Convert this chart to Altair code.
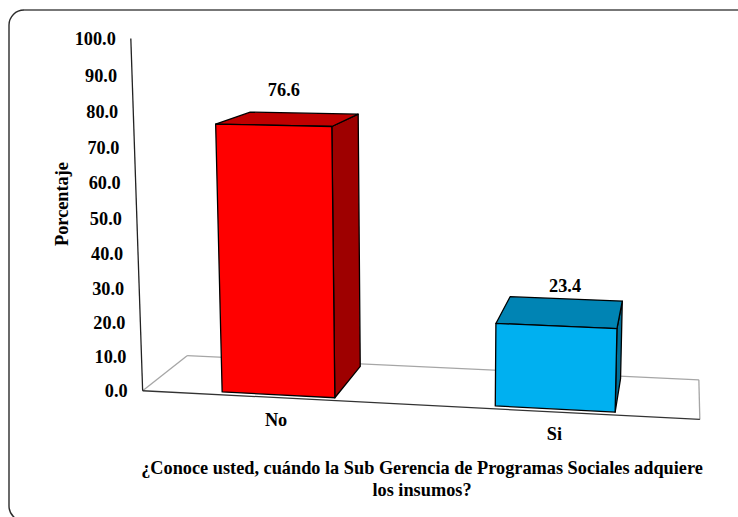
import altair as alt
import numpy as np

# Survey results
categories = ["No", "Si"]
percentages = [76.6, 23.4]
front_colors = ["#FF0000", "#00B0F0"]
top_colors = ["#C00000", "#0084B4"]
side_colors = ["#9E0000", "#006F98"]
tick_values = [0, 10, 20, 30, 40, 50, 60, 70, 80, 90, 100]

y_title = "Porcentaje"
x_title = [
    "¿Conoce usted, cuándo la Sub Gerencia de Programas Sociales adquiere",
    "los insumos?",
]

W, H = 738, 517
FONT = "Liberation Serif"

# Pinhole camera of the 3-D scene: (position across, depth, value / 100, 1) -> homogeneous canvas point
CAMERA = np.array([
    [515.00362, 61.0159, -17.00339, 142.64597],
    [3.38628, -3.53516, -353.71315, 390.73316],
    [-0.06028, 0.08863, -0.03956, 1.0],
])
BAR_HALF = 0.105
DEPTH_FRONT, DEPTH_BACK = 0.07, 0.93
LABEL_DEPTH, LABEL_LIFT = 0.365, 8.4
LABEL_SHIFT = (0.0, 0.009)


def project(across, depth, value):
    p = CAMERA @ np.array([across, depth, value / 100, 1.0])
    return [float(p[0] / p[2]), float(p[1] / p[2])]


def polygon(corners, fill):
    ring = [project(*c) for c in corners]
    return {
        "type": "Feature",
        "properties": {"fill": fill},
        "geometry": {"type": "Polygon", "coordinates": [ring + [ring[0]]]},
    }


def line(a, b, stroke):
    return {
        "type": "Feature",
        "properties": {"stroke": stroke},
        "geometry": {"type": "LineString", "coordinates": [project(*a), project(*b)]},
    }


# Three visible faces for each bar
faces = []
labels = []
for i, (name, value) in enumerate(zip(categories, percentages)):
    centre = 0.25 + 0.5 * i
    x0, x1 = centre - BAR_HALF, centre + BAR_HALF
    d0, d1 = DEPTH_FRONT, DEPTH_BACK
    faces.append(polygon([(x1, d0, 0), (x1, d1, 0), (x1, d1, value), (x1, d0, value)], side_colors[i]))
    faces.append(polygon([(x0, d0, value), (x1, d0, value), (x1, d1, value), (x0, d1, value)], top_colors[i]))
    faces.append(polygon([(x0, d0, 0), (x1, d0, 0), (x1, d0, value), (x0, d0, value)], front_colors[i]))
    vx, vy = project(centre + LABEL_SHIFT[i], LABEL_DEPTH, value + LABEL_LIFT)
    labels.append({"x": vx, "y": vy, "text": f"{value:.1f}"})

# Floor outline and the value axis
floor_lines = [
    line((0, 0, 0), (0, 1, 0), "#A6A6A6"),
    line((0, 1, 0), (1, 1, 0), "#A6A6A6"),
    line((1, 1, 0), (1, 0, 0), "#A6A6A6"),
    line((0, 0, 0), (1, 0, 0), "#333333"),
    line((0, 0, 0), (0, 0, 100), "#222222"),
]

tick_rows = []
for t in tick_values:
    tx, ty = project(0, 0, t)
    tick_rows.append({"x": tx, "y": ty, "text": f"{t:.1f}"})

category_rows = []
for i, name in enumerate(categories):
    cx, cy = project(0.25 + 0.5 * i, 0, 0)
    category_rows.append({"x": cx, "y": cy, "text": name})

x_scale = alt.Scale(domain=[0, W], range=[0, W])
y_scale = alt.Scale(domain=[0, H], range=[0, H])
xq = alt.X("x:Q", scale=x_scale, axis=None)
yq = alt.Y("y:Q", scale=y_scale, axis=None)
flat = dict(type="identity", scale=1, translate=[0, 0])

frame = alt.Chart(alt.Data(values=[{"x": 9, "x2": 780, "y": 10, "y2": 521}])).mark_rect(
    filled=False, stroke="#2b2b2b", strokeWidth=1.4, cornerRadius=15
).encode(xq, yq, x2="x2:Q", y2="y2:Q")

frame_top = alt.Chart(alt.Data(values=[{"x": 24, "x2": 738, "y": 10}])).mark_rule(
    stroke="#7f7f7f", strokeWidth=1.6
).encode(xq, yq, x2="x2:Q")

floor = alt.Chart(alt.Data(values=floor_lines)).mark_geoshape(
    filled=False, strokeWidth=1.3, clip=False
).encode(stroke=alt.Stroke("properties.stroke:N", scale=None)).project(**flat)

bars = alt.Chart(alt.Data(values=faces)).mark_geoshape(
    stroke="#000000", strokeWidth=1.3, strokeJoin="round"
).encode(fill=alt.Fill("properties.fill:N", scale=None)).project(**flat)


def text_style(**kw):
    return dict(font=FONT, fontWeight="bold", fontSize=18.3, color="#000000", **kw)


tick_text = alt.Chart(alt.Data(values=tick_rows)).mark_text(
    **text_style(align="right", baseline="middle", dx=-15, dy=1.5)
).encode(xq, yq, text="text:N")

value_text = alt.Chart(alt.Data(values=labels)).mark_text(
    **text_style(align="center", baseline="middle")
).encode(xq, yq, text="text:N")

category_text = alt.Chart(alt.Data(values=category_rows)).mark_text(
    **text_style(align="center", baseline="middle", dx=0.5, dy=23)
).encode(xq, yq, text="text:N")

y_title_text = alt.Chart(alt.Data(values=[{"x": 63, "y": 204, "text": y_title}])).mark_text(
    **text_style(align="center", baseline="middle", angle=270)
).encode(xq, yq, text="text:N")

x_title_text = alt.Chart(alt.Data(values=[
    {"x": 422, "y": 469, "text": x_title[0]},
    {"x": 422, "y": 491, "text": x_title[1]},
])).mark_text(**text_style(align="center", baseline="middle")).encode(xq, yq, text="text:N")

chart = alt.layer(
    frame, frame_top, floor, bars, tick_text, value_text, category_text, y_title_text, x_title_text
).properties(
    width=W, height=H, padding=0, autosize="none", background="#FFFFFF"
).configure_view(stroke=None)

chart.save("out.html", embed_options={"renderer": "svg", "actions": False})
